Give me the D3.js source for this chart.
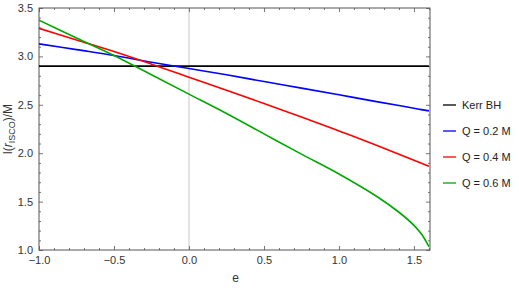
<!DOCTYPE html>
<html>
<head>
<meta charset="utf-8">
<script src="https://cdn.jsdelivr.net/npm/d3@7"></script>
<style>
  body { margin: 0; background: #fff; }
  text { font-family: "Liberation Sans", Arial, sans-serif; }
</style>
</head>
<body>
<svg id="chart" width="519" height="290"></svg>
<script>
// e values sampled along the curves
const eValues = [-1, -0.75, -0.5, -0.25, 0, 0.25, 0.5, 0.75, 1, 1.25, 1.4, 1.5, 1.55, 1.6];
const kerrBH = [2.9, 2.9, 2.9, 2.9, 2.9, 2.9, 2.9, 2.9, 2.9, 2.9, 2.9, 2.9, 2.9, 2.9];
const q02 = [3.13, 3.07, 3.01, 2.94, 2.875, 2.81, 2.74, 2.672, 2.603, 2.533, 2.492, 2.464, 2.45, 2.437];
const q04 = [3.29, 3.17, 3.05, 2.92, 2.785, 2.65, 2.513, 2.375, 2.23, 2.082, 1.99, 1.928, 1.897, 1.865];
const q06 = [3.375, 3.19, 3.01, 2.81, 2.61, 2.41, 2.2, 1.99, 1.785, 1.555, 1.39, 1.255, 1.165, 1.035];

const seriesNames = ["Kerr BH", "Q = 0.2 M", "Q = 0.4 M", "Q = 0.6 M"];
const seriesColors = ["#000000", "#0000ff", "#ff0000", "#00a800"];
const series = [kerrBH, q02, q04, q06];

const xTicks = [-1.0, -0.5, 0.0, 0.5, 1.0, 1.5];
const yTicks = [1.0, 1.5, 2.0, 2.5, 3.0, 3.5];

const svg = d3.select("#chart");
const mLeft = 39, mRight = 430, mTop = 8, mBottom = 250;

const x = d3.scaleLinear().domain([-1, 1.607]).range([mLeft, mRight]);
const y = d3.scaleLinear().domain([1, 3.5]).range([mBottom, mTop]);

const frameColor = "#555";

// zero line
svg.append("line")
  .attr("x1", x(0)).attr("x2", x(0))
  .attr("y1", mTop).attr("y2", mBottom)
  .attr("stroke", "#c8c8c8").attr("stroke-width", 1);

// minor tick values
const xMinor = d3.range(-10, 17).map(d => d / 10).filter(d => xTicks.indexOf(d) < 0);
const yMinor = d3.range(10, 36).map(d => d / 10).filter(d => yTicks.indexOf(d) < 0);

// bottom axis
const bottomAxis = svg.append("g").attr("transform", `translate(0,${mBottom})`)
  .call(d3.axisBottom(x).tickValues(xTicks).tickSize(-4).tickPadding(6));
bottomAxis.selectAll(".tick text").text(d => d < 0 ? "\u2212" + Math.abs(d).toFixed(1) : d.toFixed(1));

svg.append("g").attr("transform", `translate(0,${mBottom})`)
  .call(d3.axisBottom(x).tickValues(xMinor).tickSize(-2).tickFormat(""));

// top axis (no labels)
svg.append("g").attr("transform", `translate(0,${mTop})`)
  .call(d3.axisTop(x).tickValues(xTicks).tickSize(-4).tickFormat(""));
svg.append("g").attr("transform", `translate(0,${mTop})`)
  .call(d3.axisTop(x).tickValues(xMinor).tickSize(-2).tickFormat(""));

// left axis
svg.append("g").attr("transform", `translate(${mLeft},0)`)
  .call(d3.axisLeft(y).tickValues(yTicks).tickSize(-4).tickPadding(6)
    .tickFormat(d3.format(".1f")));
svg.append("g").attr("transform", `translate(${mLeft},0)`)
  .call(d3.axisLeft(y).tickValues(yMinor).tickSize(-2).tickFormat(""));

// right axis (no labels)
svg.append("g").attr("transform", `translate(${mRight},0)`)
  .call(d3.axisRight(y).tickValues(yTicks).tickSize(-4).tickFormat(""));
svg.append("g").attr("transform", `translate(${mRight},0)`)
  .call(d3.axisRight(y).tickValues(yMinor).tickSize(-2).tickFormat(""));

svg.selectAll(".domain").remove();
svg.selectAll(".tick line").attr("stroke", "#777");
svg.selectAll(".tick text")
  .attr("fill", "#333").style("font-size", "11px")
  .style("font-family", "Liberation Sans, Arial, sans-serif");

// frame
svg.append("rect")
  .attr("x", mLeft).attr("y", mTop)
  .attr("width", mRight - mLeft).attr("height", mBottom - mTop)
  .attr("fill", "none").attr("stroke", frameColor).attr("stroke-width", 1);

// curves
const line = d3.line()
  .x((d, i) => x(eValues[i]))
  .y(d => y(d))
  .curve(d3.curveCatmullRom.alpha(0.5));

const plot = svg.append("g");
plot.append("clipPath").attr("id", "clip")
  .append("rect").attr("x", mLeft).attr("y", mTop)
  .attr("width", mRight - mLeft).attr("height", mBottom - mTop);

series.forEach((vals, i) => {
  plot.append("path")
    .datum(vals)
    .attr("d", line)
    .attr("fill", "none")
    .attr("clip-path", "url(#clip)")
    .attr("stroke", seriesColors[i])
    .attr("stroke-width", 1.6);
});

// axis labels
svg.append("text")
  .attr("x", x(0.31)).attr("y", 282)
  .attr("text-anchor", "middle")
  .attr("fill", "#333").style("font-size", "12px")
  .text("e");

const yl = svg.append("text")
  .attr("transform", `translate(12,${(mTop + mBottom) / 2}) rotate(-90)`)
  .attr("text-anchor", "middle")
  .attr("fill", "#333").style("font-size", "12px");
yl.append("tspan").text("l(");
yl.append("tspan").style("font-style", "italic").text("r");
yl.append("tspan").attr("dy", 3).style("font-size", "9px").text("ISCO");
yl.append("tspan").attr("dy", -3).text(")/M");

// legend
const legend = svg.append("g");
seriesNames.forEach((name, i) => {
  const ly = 105 + i * 26;
  legend.append("line")
    .attr("x1", 443).attr("x2", 456)
    .attr("y1", ly).attr("y2", ly)
    .attr("stroke", seriesColors[i]).attr("stroke-width", 1.3);
  legend.append("text")
    .attr("x", 462).attr("y", ly + 4)
    .attr("fill", "#222").style("font-size", "11px")
    .text(name);
});
</script>
</body>
</html>
